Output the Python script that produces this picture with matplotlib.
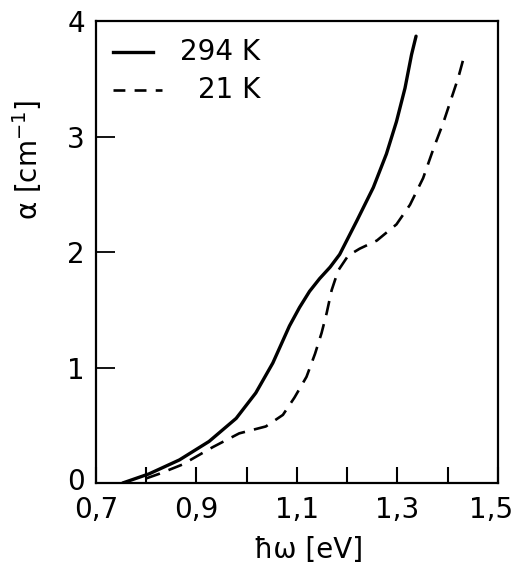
import matplotlib
matplotlib.use("Agg")
import matplotlib.pyplot as plt
import matplotlib.transforms as mtransforms

# 294 K (solid)
x_294 = [0.753, 0.806, 0.866, 0.925, 0.979, 1.018, 1.052, 1.085, 1.105, 1.125, 1.145, 1.166, 1.185, 1.219, 1.252, 1.278, 1.298, 1.315, 1.328, 1.337]
y_294 = [0.00, 0.08, 0.20, 0.36, 0.56, 0.78, 1.04, 1.36, 1.52, 1.66, 1.77, 1.87, 1.98, 2.27, 2.56, 2.85, 3.13, 3.42, 3.71, 3.87]
# 21 K (dashed)
x_21 = [0.800, 0.826, 0.872, 0.932, 0.985, 1.038, 1.072, 1.095, 1.119, 1.136, 1.149, 1.159, 1.169, 1.182, 1.202, 1.225, 1.259, 1.298, 1.325, 1.351, 1.372, 1.392, 1.408, 1.421, 1.431]
y_21 = [0.04, 0.08, 0.16, 0.31, 0.43, 0.49, 0.59, 0.74, 0.92, 1.12, 1.30, 1.47, 1.67, 1.84, 1.97, 2.03, 2.10, 2.24, 2.41, 2.64, 2.90, 3.13, 3.34, 3.51, 3.67]

x_tick_pos = [0.7, 0.8, 0.9, 1.0, 1.1, 1.2, 1.3, 1.4, 1.5]
x_tick_labels = ["0,7", "", "0,9", "", "1,1", "", "1,3", "", "1,5"]
y_ticks = [0, 1, 2, 3, 4]
y_tick_labels = ["0", "1", "2", "3", "4"]
legend_labels = ["294 K", "21 K"]

plt.rcParams['font.family'] = ['DejaVu Sans']
fig = plt.figure(figsize=(5.18, 5.66), dpi=100)
ax = fig.add_axes([0.1853, 0.1466, 0.776, 0.816])

dash = (0, (5.5, 3.5))
ax.plot(x_294, y_294, color='black', lw=2.4, solid_capstyle='round')
ax.plot(x_21, y_21, color='black', lw=1.9, ls=dash)

ax.set_xlim(0.7, 1.5)
ax.set_ylim(0, 4)
for s in ax.spines.values():
    s.set_linewidth(1.6)

ax.set_xticks(x_tick_pos)
ax.set_xticklabels(x_tick_labels)
ax.tick_params(axis='x', direction='in', length=11.5, width=1.5, labelsize=20, pad=9.5)

ax.set_yticks(y_ticks)
ax.set_yticklabels(y_tick_labels)
ax.tick_params(axis='y', direction='in', length=14, width=1.3, labelsize=20, pad=8)

# nudge the last x label inward so it stays within the figure
last = ax.get_xticklabels()[-1]
last.set_transform(last.get_transform() + mtransforms.ScaledTranslation(-5 / 72, 0, fig.dpi_scale_trans))
# nudge the 0 label up slightly
first_y = ax.get_yticklabels()[0]
first_y.set_transform(first_y.get_transform() + mtransforms.ScaledTranslation(0, 3 / 72, fig.dpi_scale_trans))

ax.set_xlabel("ħω [eV]", fontsize=20)
ax.set_ylabel("α [cm$^{-1}$]", fontsize=20)
ax.xaxis.set_label_coords(0.53, -0.115)
ax.yaxis.set_label_coords(-0.13, 0.70)

# legend drawn manually
ax.plot([0.042, 0.142], [0.933, 0.933], transform=ax.transAxes, color='black', lw=2.4)
ax.plot([0.042, 0.165], [0.851, 0.851], transform=ax.transAxes, color='black', lw=1.9, ls=(0, (4.5, 3.5)))
ax.text(0.408, 0.933, legend_labels[0], transform=ax.transAxes, ha='right', va='center', fontsize=20)
ax.text(0.408, 0.851, legend_labels[1], transform=ax.transAxes, ha='right', va='center', fontsize=20)

fig.savefig("out.png", dpi=100)
